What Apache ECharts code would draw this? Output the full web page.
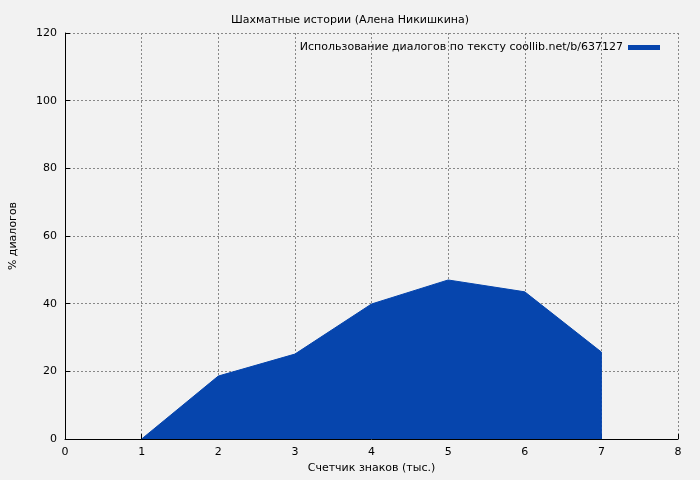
<!DOCTYPE html>
<html lang="ru">
<head>
<meta charset="UTF-8">
<title>chart</title>
<script src="https://cdn.jsdelivr.net/npm/echarts@6/dist/echarts.min.js"></script>
</head>
<body style="margin:0;background:#f2f2f2">
<div id="main" style="width:700px;height:480px"></div>
<script>
var xValues = [1, 2, 3, 4, 5, 6, 7];
var dialogPct = [0, 18.6, 25.1, 39.9, 47.0, 43.5, 25.7];
var seriesName = 'Использование диалогов по тексту coollib.net/b/637127';

var chart = echarts.init(document.getElementById('main'));
var pts = [];
for (var i = 0; i < xValues.length; i++) pts.push([xValues[i], dialogPct[i]]);
// drop to zero at the last x so the area has a vertical edge
pts.push([xValues[xValues.length - 1], 0]);

var font = 'DejaVu Sans';
chart.setOption({
    backgroundColor: '#f2f2f2',
    animation: false,
    title: {
        text: 'Шахматные истории (Алена Никишкина)',
        left: 'center', top: 10,
        textStyle: { fontFamily: font, fontSize: 11, fontWeight: 'normal', color: '#000' }
    },
    legend: {
        top: 37, right: 35,
        icon: 'rect', itemWidth: 32, itemHeight: 5,
        align: 'right',
        textStyle: { fontFamily: font, fontSize: 11, color: '#000' },
        data: [seriesName]
    },
    grid: { left: 60, right: 22, top: 33, bottom: 41 },
    xAxis: {
        type: 'value', min: 0, max: 8, interval: 1,
        name: 'Счетчик знаков (тыс.)', nameLocation: 'middle', nameGap: 24,
        nameTextStyle: { fontFamily: font, fontSize: 11, color: '#000' },
        axisLine: { lineStyle: { color: '#000' } },
        axisTick: { inside: true, lineStyle: { color: '#000' } },
        axisLabel: { fontFamily: font, fontSize: 11, color: '#000' },
        splitLine: { show: true, lineStyle: { color: '#888', type: [2, 2] } }
    },
    yAxis: {
        type: 'value', min: 0, max: 120, interval: 20,
        name: '% диалогов', nameLocation: 'middle', nameGap: 46,
        nameTextStyle: { fontFamily: font, fontSize: 11, color: '#000' },
        axisLine: { show: true, lineStyle: { color: '#000' } },
        axisTick: { show: true, inside: true, lineStyle: { color: '#000' } },
        axisLabel: { fontFamily: font, fontSize: 11, color: '#000' },
        splitLine: { show: true, lineStyle: { color: '#888', type: [2, 2] } }
    },
    series: [{
        name: seriesName,
        type: 'line',
        data: pts,
        symbol: 'none',
        lineStyle: { width: 1, color: '#0645ad' },
        itemStyle: { color: '#0645ad' },
        areaStyle: { color: '#0645ad', opacity: 1 }
    }]
});
</script>
</body>
</html>
